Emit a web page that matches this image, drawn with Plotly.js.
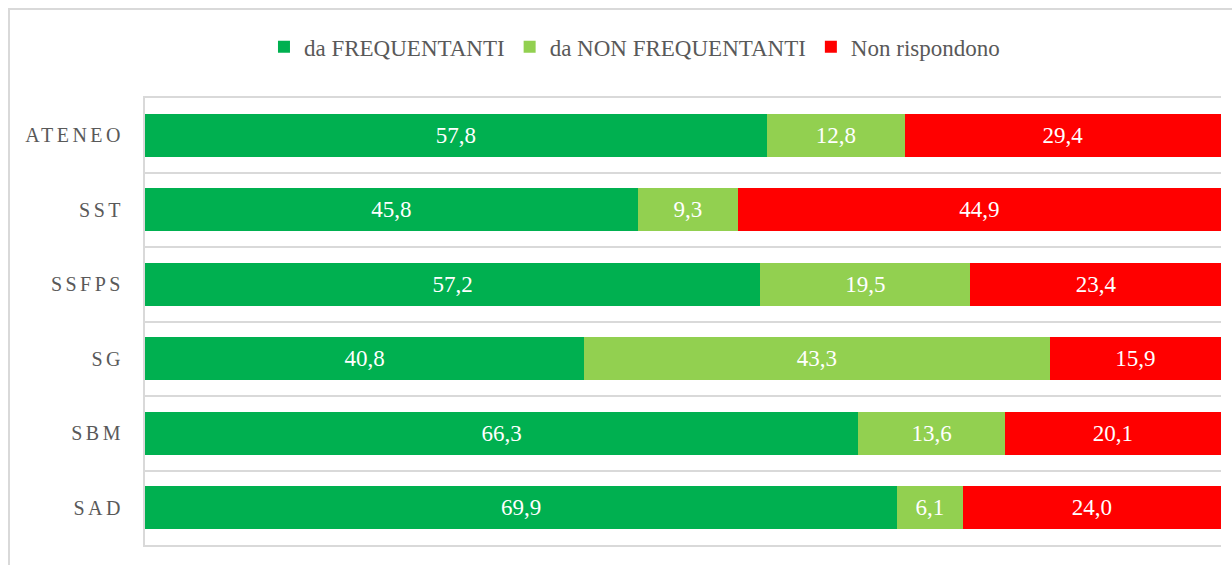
<!DOCTYPE html>
<html>
<head>
<meta charset="utf-8">
<script src="https://cdn.plot.ly/plotly-3.0.1.min.js"></script>
<style>
  html, body { margin: 0; padding: 0; background: #fff; }
  #wrap { position: relative; width: 1232px; height: 565px; overflow: hidden; }
  #chart { position: absolute; left: 0; top: 0; width: 1232px; height: 565px; z-index: 1; }
  #frame { position: absolute; left: 8px; top: 8px; width: 1400px; height: 800px;
           border: 2px solid #d9d9d9; pointer-events: none; z-index: 10; }
  .ytick text { letter-spacing: 3.5px; }
</style>
</head>
<body>
<div id="wrap">
  <div id="chart"></div>
  <div id="frame"></div>
</div>
<script>
const categories = ["ATENEO", "SST", "SSFPS", "SG", "SBM", "SAD"];
const seriesNames = ["da FREQUENTANTI", "da NON FREQUENTANTI", "Non rispondono"];
const frequentanti = [57.8, 45.8, 57.2, 40.8, 66.3, 69.9];
const nonFrequentanti = [12.8, 9.3, 19.5, 43.3, 13.6, 6.1];
const nonRispondono = [29.4, 44.9, 23.4, 15.9, 20.1, 24.0];
const colors = ["#00B050", "#92D050", "#FF0000"];

const fontFam = "Liberation Serif, DejaVu Serif, serif";
const allValues = [frequentanti, nonFrequentanti, nonRispondono];

const traces = allValues.map((vals, i) => ({
  type: "bar",
  orientation: "h",
  name: seriesNames[i],
  y: categories,
  x: vals,
  marker: { color: colors[i], line: { width: 0 } },
  texttemplate: "%{x:.1f}",
  textposition: "inside",
  insidetextanchor: "middle",
  textangle: 0,
  textfont: { color: "#ffffff", size: 23, family: fontFam },
  hoverinfo: "skip"
}));

const layout = {
  width: 1232,
  height: 565,
  barmode: "stack",
  bargap: 0.42,
  separators: ",.",
  margin: { l: 145, r: 11, t: 98, b: 20 },
  paper_bgcolor: "#ffffff",
  plot_bgcolor: "#ffffff",
  font: { family: fontFam, color: "#595959" },
  showlegend: true,
  legend: {
    orientation: "h",
    x: 0.515, xanchor: "center", xref: "container",
    y: 0.917, yanchor: "middle", yref: "container",
    font: { size: 23, color: "#595959", family: fontFam },
    itemwidth: 30,
    traceorder: "normal",
    bgcolor: "rgba(0,0,0,0)"
  },
  xaxis: {
    range: [0, 100],
    showgrid: false,
    zeroline: false,
    showticklabels: false,
    showline: true,
    mirror: true,
    linecolor: "#d9d9d9",
    linewidth: 2,
    ticks: "",
    fixedrange: true
  },
  yaxis: {
    type: "category",
    autorange: "reversed",
    tickson: "boundaries",
    showgrid: true,
    gridcolor: "#d9d9d9",
    gridwidth: 2,
    showline: true,
    linecolor: "#d9d9d9",
    linewidth: 2,
    ticks: "",
    ticklabelstandoff: 15,
    tickfont: { size: 20, color: "#595959", family: fontFam },
    zeroline: false
  }
};

Plotly.newPlot("chart", traces, layout, { displayModeBar: false, staticPlot: true });
</script>
</body>
</html>
